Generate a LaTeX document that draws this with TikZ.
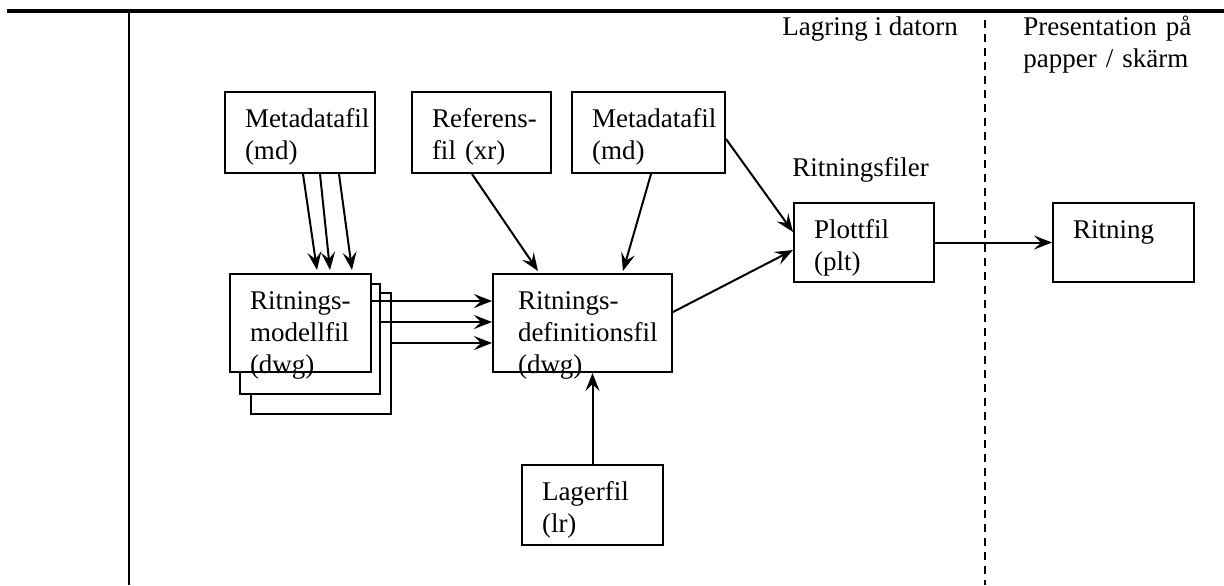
\documentclass[tikz,border=0pt]{standalone}
\usepackage{fontspec}
\setmainfont{Liberation Serif}
\usetikzlibrary{arrows.meta,calc}
\hfuzz=60pt
\tikzset{every node/.style={font=\fontsize{13.5pt}{16pt}\selectfont},
        filebox/.style={draw, line width=1pt, fill=white, anchor=north west,
                        align=left, inner xsep=10pt, inner ysep=0pt,
                        text height=17.5pt},
        stackbox/.style={draw, line width=1pt, fill=white, anchor=north west,
                         inner sep=0pt},
        flow/.style={line width=1pt, -{Stealth[length=9pt,width=7pt,inset=3.5pt]}},
        caption/.style={inner sep=0pt, anchor=base west, align=left},
        }

\begin{document}
\begin{tikzpicture}[x=0.5pt,y=-0.5pt]
    \useasboundingbox (0,0) rectangle (1224,585);

    \draw [line width=1.8pt] (7,11) -- (1224,11);
    \draw [line width=1pt] (129,11) -- (129,585);
    \draw [line width=1pt, dash pattern=on 4pt off 3pt] (985,20) -- (985,585);

    \node [caption] (lagring) at (782,35) {Lagring i datorn};
    \node [caption, text width=95pt] (presentation) at (1023,35) {Presentation på\\papper / skärm};
    \node [caption] (filer) at (792,176) {Ritningsfiler};

    \node [filebox, text width=55pt, text depth=23pt] (mdA) at (224,91) {Metadatafil\\(md)};
    \node [filebox, text width=49.5pt, text depth=23pt] (refF) at (411,91) {\mbox{Referens-}\\fil (xr)};
    \node [filebox, text width=56.5pt, text depth=23pt] (mdB) at (571,91) {Metadatafil\\(md)};

    \node [stackbox, minimum width=70pt, minimum height=60.5pt] (back3) at (250,292) {};
    \node [stackbox, minimum width=70pt, minimum height=55pt] (back2) at (239,283) {};
    \node [filebox, text width=50.5pt, text depth=31.5pt] (front) at (229,273) {\mbox{Ritnings-}\\modellfil\\(dwg)};

    \node [filebox, inner xsep=12.5pt, text width=64.5pt, text depth=31.5pt] (defF) at (492,273) {\mbox{Ritnings-}\\definitionsfil\\(dwg)};
    \node [filebox, text width=50.5pt, text depth=22.5pt] (lager) at (521,464) {Lagerfil\\(lr)};
    \node [filebox, text width=50pt, text depth=22pt] (plott) at (793,202) {Plottfil\\(plt)};
    \node [filebox, text width=50.5pt, text depth=22pt] (ritning) at (1052,202) {Ritning};

    \draw [flow] ($(mdA.south west)+(79,0)$) -- ($(front.north west)+(88,-3)$);
    \draw [flow] ($(mdA.south west)+(96,0)$) -- ($(front.north west)+(101,-3)$);
    \draw [flow] ($(mdA.south west)+(115,0)$) -- ($(front.north west)+(123,-3)$);

    \draw [flow] ($(front.north east)+(0,28)$) -- ($(defF.north west)+(0,28)$);
    \draw [flow] ($(back2.north east)+(0,39)$) -- ($(defF.north west)+(0,49)$);
    \draw [flow] ($(back3.north east)+(0,51)$) -- ($(defF.north west)+(0,70)$);

    \draw [flow] ($(refF.south west)+(61,0)$) -- ($(defF.north west)+(46,-2)$);
    \draw [flow] ($(mdB.south west)+(80,0)$) -- ($(defF.north west)+(131,-2)$);
    \draw [flow] (lager.north) -- (lager.north |- defF.south);

    \draw [flow] ($(mdB.north east)+(0,48)$) -- ($(plott.north west)+(0,30)$);
    \draw [flow] ($(defF.north east)+(0,39)$) -- ($(plott.north west)+(0,48)$);
    \draw [flow] (plott) -- (ritning);

\end{tikzpicture}
\end{document}
